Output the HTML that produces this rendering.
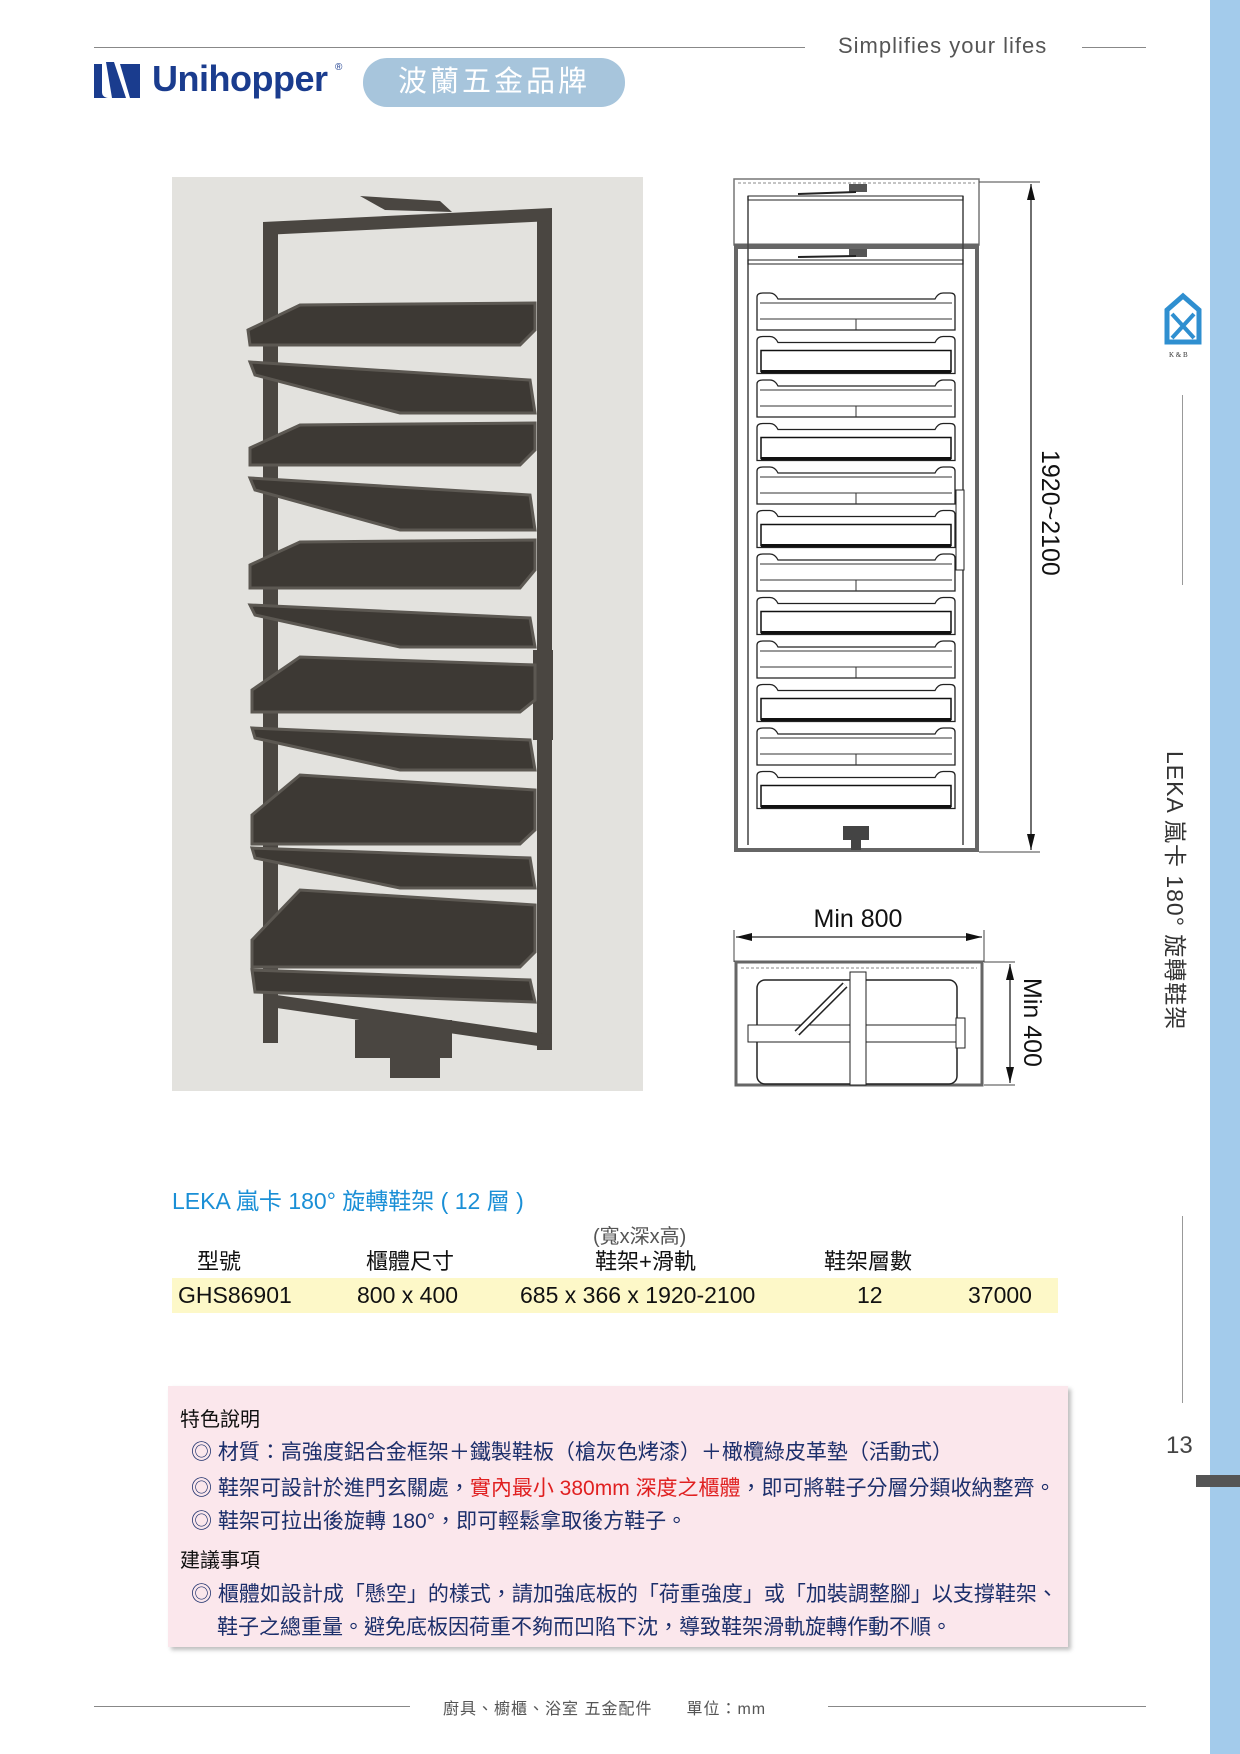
<!DOCTYPE html>
<html><head><meta charset="utf-8">
<style>
*{margin:0;padding:0;box-sizing:border-box}
body{width:1240px;height:1754px;position:relative;background:#fff;font-family:"Liberation Sans","Noto Sans CJK TC",sans-serif;overflow:hidden}
.a{position:absolute;white-space:nowrap}
.hl{position:absolute;height:1px;background:#888}
.t{font-size:23px;color:#111}
.p{font-size:21px;color:#1c2f6b}
</style></head><body>
<!-- sidebar -->
<div class="a" style="left:1210px;top:0;width:30px;height:1754px;background:#a3cbeb"></div>
<div class="a" style="left:1196px;top:1475px;width:44px;height:12px;background:#555"></div>
<div class="a" style="left:1182px;top:395px;width:1px;height:190px;background:#999"></div>
<div class="a" style="left:1182px;top:1216px;width:1px;height:187px;background:#999"></div>
<div class="a" style="left:1166px;top:1432px;font-size:24px;color:#444">13</div>
<div class="a" style="left:1180px;top:751px;font-size:23px;color:#333;transform-origin:0 0;transform:translate(14px,0) rotate(90deg);letter-spacing:1px">LEKA 嵐卡 180° 旋轉鞋架</div>
<svg class="a" style="left:1163px;top:292px" width="40" height="68" viewBox="0 0 40 68">
<path d="M20 4 L36 18 L36 50 L4 50 L4 18 Z" fill="none" stroke="#2f8fd0" stroke-width="5"/>
<path d="M9 22 L31 46 M31 22 L9 46" stroke="#2f8fd0" stroke-width="4"/>
<text x="6" y="65" font-size="7" fill="#333" font-family="Liberation Serif">K &amp; B</text>
</svg>
<!-- header -->
<div class="hl" style="left:94px;top:47px;width:711px"></div>
<div class="a" style="left:838px;top:33px;font-size:22px;color:#555;letter-spacing:1px">Simplifies your lifes</div>
<div class="hl" style="left:1082px;top:47px;width:64px"></div>
<svg class="a" style="left:94px;top:62px" width="46" height="38" viewBox="0 0 46 38">
<path d="M0 2 H8 V30 Q8 35 14 36 L0 36 Z" fill="#1a3c8e"/>
<path d="M12 0 L20 0 L32 36 L18 36 Z" fill="#1a3c8e"/>
<path d="M26 2 H46 V36 H36 Z" fill="#1a3c8e"/>
</svg>
<div class="a" style="left:152px;top:58px;font-size:36px;font-weight:bold;color:#1a3c8e;letter-spacing:-0.5px">Unihopper</div>
<div class="a" style="left:335px;top:62px;font-size:10px;color:#1a3c8e">®</div>
<div class="a" style="left:363px;top:58px;width:262px;height:49px;border-radius:24px;background:#a7c5dc;color:#fff;font-size:29px;text-align:center;line-height:49px;letter-spacing:3px">波蘭五金品牌</div>
<!-- photo -->
<div class="a" style="left:172px;top:177px;width:471px;height:914px;background:#e3e2de"></div>
<svg class="a" style="left:0;top:0" width="700" height="1100">
<g fill="#4a4641">
<rect x="263" y="227" width="15" height="816"/>
<rect x="537" y="213" width="15" height="837"/>
<polygon points="263,222 552,208 552,221 263,235"/>
<polygon points="360,196 440,201 452,212 385,210"/>
<polygon points="263,993 552,1035 552,1048 263,1006"/>
<rect x="355" y="1020" width="97" height="38"/>
<rect x="390" y="1040" width="50" height="38"/>
<rect x="533" y="650" width="20" height="90"/>
</g>
<g fill="#3d3934" stroke="#5c5852" stroke-width="3">
<polygon points="248,330 300,305 535,303 535,330 520,345 250,345"/>
<polygon points="250,362 530,380 535,413 400,413 255,375"/>
<polygon points="250,448 300,425 535,423 535,450 520,465 250,465"/>
<polygon points="250,478 530,495 535,530 400,530 255,490"/>
<polygon points="250,565 300,542 535,540 535,570 520,588 250,588"/>
<polygon points="250,605 530,618 535,647 400,647 255,615"/>
<polygon points="252,690 300,657 535,665 535,700 520,712 252,712"/>
<polygon points="252,728 530,740 535,770 400,770 255,738"/>
<polygon points="252,815 300,775 535,790 535,830 520,844 252,844"/>
<polygon points="252,848 530,858 535,888 400,888 255,858"/>
<polygon points="252,940 300,890 535,905 535,952 520,967 252,967"/>
<polygon points="252,970 530,980 535,1002 255,992"/>
</g>
</svg>
<!-- front drawing -->
<svg class="a" style="left:0;top:0" width="1100" height="1100">
<defs>
<g id="ta"><path d="M757 4 Q757 0 763 0 L770 0 Q775 0 778 6 L935 6 Q938 0 943 0 L950 0 Q955 0 955 4 L955 37 L757 37 Z" fill="#fff" stroke="#222" stroke-width="1.3"/>
<line x1="760" y1="26" x2="952" y2="26" stroke="#333"/><line x1="856" y1="26" x2="856" y2="37" stroke="#333"/>
<line x1="760" y1="10" x2="952" y2="10" stroke="#333"/></g>
<g id="tb"><path d="M757 4 Q757 0 763 0 L770 0 Q775 0 778 6 L935 6 Q938 0 943 0 L950 0 Q955 0 955 4 L955 37 L757 37 Z" fill="#fff" stroke="#222" stroke-width="1.3"/>
<rect x="761" y="14" width="190" height="21" fill="#fff" stroke="#111" stroke-width="1.5"/><line x1="761" y1="35" x2="951" y2="35" stroke="#111" stroke-width="3"/></g>
</defs>
<rect x="734" y="179" width="245" height="66" fill="none" stroke="#777" stroke-width="1.5"/>
<line x1="738" y1="183" x2="975" y2="183" stroke="#888" stroke-dasharray="3,2"/>
<rect x="736" y="247" width="241" height="603" fill="none" stroke="#666" stroke-width="4"/>
<line x1="734" y1="245" x2="979" y2="245" stroke="#666" stroke-width="3"/>
<line x1="748" y1="196" x2="748" y2="845" stroke="#444" stroke-width="1.5"/>
<line x1="963" y1="196" x2="963" y2="845" stroke="#444" stroke-width="1.5"/>
<rect x="748" y="196" width="215" height="4" fill="none" stroke="#222"/>
<rect x="748" y="260" width="215" height="4" fill="none" stroke="#222"/>
<rect x="849" y="184" width="18" height="8" fill="#555"/><line x1="798" y1="194" x2="856" y2="192" stroke="#222" stroke-width="2"/>
<rect x="849" y="249" width="18" height="8" fill="#555"/><line x1="798" y1="257" x2="856" y2="256" stroke="#222" stroke-width="2"/>
<use href="#ta" y="293"/><use href="#tb" y="336.5"/><use href="#ta" y="380"/><use href="#tb" y="423.5"/>
<use href="#ta" y="467"/><use href="#tb" y="510.5"/><use href="#ta" y="554"/><use href="#tb" y="597.5"/>
<use href="#ta" y="641"/><use href="#tb" y="684.5"/><use href="#ta" y="728"/><use href="#tb" y="771.5"/>
<rect x="956" y="490" width="8" height="80" fill="#fff" stroke="#222"/>
<rect x="843" y="826" width="26" height="14" fill="#444"/>
<rect x="851" y="840" width="10" height="10" fill="#444"/>
<line x1="979" y1="182" x2="1040" y2="182" stroke="#444"/>
<line x1="979" y1="852" x2="1040" y2="852" stroke="#444"/>
<line x1="1031" y1="184" x2="1031" y2="850" stroke="#222" stroke-width="1.3"/>
<polygon points="1031,184 1027,200 1035,200" fill="#111"/>
<polygon points="1031,850 1027,834 1035,834" fill="#111"/>
<text x="0" y="0" font-size="25" font-family="Liberation Sans" fill="#111" transform="translate(1042,450) rotate(90)">1920~2100</text>
<!-- bottom view -->
<text x="858" y="927" font-size="25" text-anchor="middle" font-family="Liberation Sans" fill="#111">Min 800</text>
<line x1="734" y1="930" x2="734" y2="962" stroke="#444"/><line x1="984" y1="930" x2="984" y2="962" stroke="#444"/>
<line x1="736" y1="937" x2="982" y2="937" stroke="#222" stroke-width="1.3"/>
<polygon points="736,937 752,933 752,941" fill="#111"/><polygon points="982,937 966,933 966,941" fill="#111"/>
<rect x="736" y="962" width="246" height="123" fill="#fff" stroke="#666" stroke-width="3"/>
<line x1="741" y1="968" x2="977" y2="968" stroke="#888" stroke-dasharray="3,2"/>
<rect x="757" y="980" width="200" height="104" rx="8" fill="#fff" stroke="#222" stroke-width="1.5"/>
<rect x="748" y="1025" width="209" height="17" fill="#fff" stroke="#222"/>
<line x1="797" y1="1033" x2="845" y2="985" stroke="#222" stroke-width="7"/>
<line x1="797" y1="1033" x2="845" y2="985" stroke="#fff" stroke-width="4"/>
<rect x="850" y="972" width="16" height="113" fill="#fff" stroke="#222"/>
<rect x="956" y="1018" width="9" height="30" fill="#fff" stroke="#222"/>
<line x1="984" y1="962" x2="1015" y2="962" stroke="#444"/><line x1="984" y1="1085" x2="1015" y2="1085" stroke="#444"/>
<line x1="1010" y1="964" x2="1010" y2="1083" stroke="#222" stroke-width="1.3"/>
<polygon points="1010,964 1006,980 1014,980" fill="#111"/><polygon points="1010,1083 1006,1067 1014,1067" fill="#111"/>
<text x="0" y="0" font-size="25" font-family="Liberation Sans" fill="#111" transform="translate(1024,978) rotate(90)">Min 400</text>
</svg>
<!-- title & table -->
<div class="a" style="left:172px;top:1182px;font-size:23px;color:#1a8fd6">LEKA 嵐卡 180° 旋轉鞋架 ( 12 層 )</div>
<div class="a" style="left:593px;top:1220px;font-size:20px;color:#555">(寬x深x高)</div>
<div class="a t" style="left:197px;top:1244px;font-size:22px">型號</div>
<div class="a t" style="left:366px;top:1244px;font-size:22px">櫃體尺寸</div>
<div class="a t" style="left:595px;top:1244px;font-size:22px">鞋架+滑軌</div>
<div class="a t" style="left:824px;top:1244px;font-size:22px">鞋架層數</div>
<div class="a" style="left:172px;top:1278px;width:886px;height:35px;background:#fdf8c8"></div>
<div class="a t" style="left:178px;top:1282px">GHS86901</div>
<div class="a t" style="left:357px;top:1282px">800 x 400</div>
<div class="a t" style="left:520px;top:1282px">685 x 366 x 1920-2100</div>
<div class="a t" style="left:857px;top:1282px">12</div>
<div class="a t" style="left:968px;top:1282px">37000</div>
<!-- pink box -->
<div class="a" style="left:168px;top:1386px;width:900px;height:261px;background:#fbe7ec;box-shadow:3px 3px 4px rgba(0,0,0,.25)"></div>
<div class="a" style="left:180px;top:1403px;font-size:20px;color:#111">特色說明</div>
<div class="a p" style="left:191px;top:1436px">◎ 材質：高強度鋁合金框架＋鐵製鞋板（槍灰色烤漆）＋橄欖綠皮革墊（活動式）</div>
<div class="a p" style="left:191px;top:1472px">◎ 鞋架可設計於進門玄關處，<span style="color:#e02020">實內最小 380mm 深度之櫃體</span>，即可將鞋子分層分類收納整齊。</div>
<div class="a p" style="left:191px;top:1505px">◎ 鞋架可拉出後旋轉 180°，即可輕鬆拿取後方鞋子。</div>
<div class="a" style="left:180px;top:1544px;font-size:20px;color:#111">建議事項</div>
<div class="a p" style="left:191px;top:1578px">◎ 櫃體如設計成「懸空」的樣式，請加強底板的「荷重強度」或「加裝調整腳」以支撐鞋架、</div>
<div class="a p" style="left:217px;top:1611px">鞋子之總重量。避免底板因荷重不夠而凹陷下沈，導致鞋架滑軌旋轉作動不順。</div>
<!-- footer -->
<div class="hl" style="left:94px;top:1706px;width:316px"></div>
<div class="a" style="left:443px;top:1695px;font-size:16px;color:#555;letter-spacing:1px">廚具、櫥櫃、浴室 五金配件　　單位：mm</div>
<div class="hl" style="left:828px;top:1706px;width:318px"></div>
</body></html>
